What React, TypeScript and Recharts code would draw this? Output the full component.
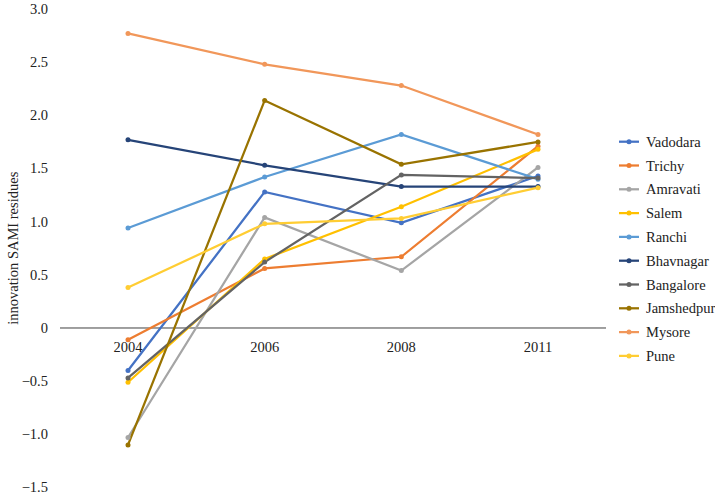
import React from 'react';
import { LineChart, Line, XAxis, YAxis, ReferenceLine } from 'recharts';

const years = ['2004', '2006', '2008', '2011'];
const vadodara = [-0.4, 1.28, 0.99, 1.43];
const trichy = [-0.11, 0.56, 0.67, 1.71];
const amravati = [-1.03, 1.04, 0.54, 1.51];
const salem = [-0.51, 0.65, 1.14, 1.68];
const ranchi = [0.94, 1.42, 1.82, 1.4];
const bhavnagar = [1.77, 1.53, 1.33, 1.33];
const bangalore = [-0.47, 0.62, 1.44, 1.41];
const jamshedpur = [-1.1, 2.14, 1.54, 1.75];
const mysore = [2.77, 2.48, 2.28, 1.82];
const pune = [0.38, 0.98, 1.03, 1.32];
const yTicks = [-1.5, -1, -0.5, 0, 0.5, 1, 1.5, 2, 2.5, 3];

const series = [
  { name: 'Vadodara', values: vadodara, color: '#4472C4' },
  { name: 'Trichy', values: trichy, color: '#ED7D31' },
  { name: 'Amravati', values: amravati, color: '#A5A5A5' },
  { name: 'Salem', values: salem, color: '#FFC000' },
  { name: 'Ranchi', values: ranchi, color: '#5B9BD5' },
  { name: 'Bhavnagar', values: bhavnagar, color: '#264478' },
  { name: 'Bangalore', values: bangalore, color: '#636363' },
  { name: 'Jamshedpur', values: jamshedpur, color: '#997300' },
  { name: 'Mysore', values: mysore, color: '#F1975A' },
  { name: 'Pune', values: pune, color: '#FFCD33' },
];

const data = years.map((y, i) => {
  const row: Record<string, any> = { year: y };
  series.forEach((s) => {
    row[s.name] = s.values[i];
  });
  return row;
});

const FONT = 'Liberation Serif';
const TEXT_COLOR = '#222';
const FS = 14.5;

const fmt = (v: number) => (v === 0 ? '0' : v.toFixed(1).replace('-', '\u2212'));

const XTick = (props: any) => {
  const { x, y, payload } = props;
  return (
    <text x={x} y={y - 143} textAnchor="middle" fontFamily={FONT} fontSize={FS} fill={TEXT_COLOR}>
      {payload.value}
    </text>
  );
};

const YTick = (props: any) => {
  const { x, y, payload } = props;
  return (
    <text x={x} y={y} dy={5} textAnchor="end" fontFamily={FONT} fontSize={FS} fill={TEXT_COLOR}>
      {fmt(payload.value)}
    </text>
  );
};

const Legend = () => (
  <svg width={100} height={250} style={{ position: 'absolute', left: 615, top: 130 }}>
    {series.map((s, i) => {
      const cy = 11.7 + i * 23.8;
      return (
        <g key={s.name}>
          <line x1={4} x2={24} y1={cy} y2={cy} stroke={s.color} strokeWidth={2.25} />
          <circle cx={14} cy={cy} r={2.5} fill={s.color} />
          <text x={31} y={cy} dy={5} fontFamily={FONT} fontSize={FS} fill={TEXT_COLOR}>
            {s.name}
          </text>
        </g>
      );
    })}
  </svg>
);

export default function App() {
  return (
    <div style={{ position: 'absolute', left: 0, top: 0, width: 717, height: 497, background: '#fff', fontFamily: FONT }}>
      <LineChart width={717} height={497} data={data} margin={{ top: 9, right: 111, bottom: 9.5, left: 0 }}>
        <XAxis
          dataKey="year"
          axisLine={false}
          tickLine={false}
          padding={{ left: 68, right: 68 }}
          tick={<XTick />}
          height={0.01}
        />
        <YAxis
          type="number"
          domain={[-1.5, 3]}
          ticks={yTicks}
          interval={0}
          axisLine={false}
          tickLine={false}
          tickMargin={6}
          width={60}
          tick={<YTick />}
          label={{
            value: 'innovation SAMI residues',
            angle: -90,
            position: 'insideLeft',
            offset: 13,
            style: { textAnchor: 'middle', fontFamily: FONT, fontSize: FS, fill: TEXT_COLOR },
          }}
        />
        <ReferenceLine y={0} stroke="#404040" strokeWidth={1} />
        {series.map((s) => (
          <Line
            key={s.name}
            dataKey={s.name}
            stroke={s.color}
            strokeWidth={2.25}
            dot={{ r: 2.5, fill: s.color, stroke: s.color, strokeWidth: 0 }}
            activeDot={false}
            isAnimationActive={false}
          />
        ))}
      </LineChart>
      <Legend />
    </div>
  );
}
